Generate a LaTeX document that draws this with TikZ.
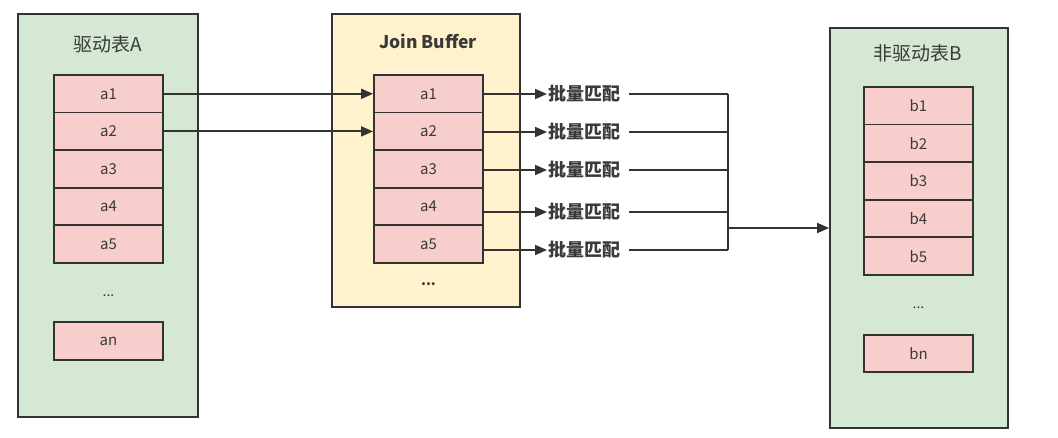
\documentclass[tikz,border=0pt]{standalone}
\usepackage{fontspec}
\setmainfont{Noto Sans CJK SC}
\usetikzlibrary{arrows.meta}
\definecolor{gfill}{HTML}{D5E8D4}
\definecolor{yfill}{HTML}{FFF2CC}
\definecolor{pfill}{HTML}{F8CECC}
\definecolor{edge}{HTML}{333333}
\definecolor{txt}{HTML}{3A3A3A}
\begin{document}
\begin{tikzpicture}[x=1pt,y=-1pt,
  panel/.style={draw=edge,line width=1.8pt,inner sep=0pt},
  cell/.style={draw=edge,line width=1.8pt,fill=pfill,minimum width=109pt,minimum height=37.6pt,inner sep=0pt,font=\fontsize{15}{15}\selectfont,text=txt},
  lbl/.style={font=\fontsize{18}{18}\selectfont\bfseries,text=txt,inner sep=1pt},
  ttl/.style={font=\fontsize{19}{19}\selectfont,text=txt},
  dots/.style={font=\fontsize{14}{14}\selectfont,text=txt},
  conn/.style={draw=edge,line width=1.8pt},
  arr/.style={conn,-{Triangle[length=12pt,width=10pt]}}]
\useasboundingbox (0,0) rectangle (1058,438);
\fill[white] (0,0) rectangle (1058,438);
% panels
\node[panel,fill=gfill,minimum width=180pt,minimum height=403pt] (PA) at (108,215.5) {};
\node[panel,fill=yfill,minimum width=188pt,minimum height=293pt] (PJ) at (426,160.5) {};
\node[panel,fill=gfill,minimum width=178pt,minimum height=400pt] (PB) at (919,228) {};
\node[ttl] (tA) at (108,44) {驱动表A};
\node[ttl,font=\fontsize{17.5}{17.5}\selectfont\bfseries] (tJ) at (428,41) {Join Buffer};
\node[ttl] (tB) at (918,53) {非驱动表B};
% table A
\foreach \i/\y in {1/93.8,2/131.4,3/169,4/206.6,5/244.2}{
  \node[cell] (A\i) at (108.5,\y) {a\i};
}
\node[dots] (Adots) at (108.5,296) {...};
\node[cell] (An) at (108.5,341) {an};
% join buffer
\foreach \i/\y in {1/93.8,2/131.4,3/169,4/206.6,5/244.2}{
  \node[cell] (J\i) at (428.5,\y) {a\i};
}
\node[dots,font=\fontsize{14}{14}\selectfont\bfseries] (Jdots) at (428.5,284) {...};
% table B
\foreach \i/\y in {1/105.8,2/143.4,3/181,4/218.6,5/256.2}{
  \node[cell] (B\i) at (918.5,\y) {b\i};
}
\node[dots] (Bdots) at (918.5,308) {...};
\node[cell] (Bn) at (918.5,353.5) {bn};
% A -> Join buffer
\draw[arr] (A1.east) -- (J1.west);
\draw[arr] (A2.east) -- (J2.west);
% labels
\foreach \i/\y in {1/94,2/132,3/170,4/212,5/250}{
  \node[lbl,anchor=west] (M\i) at (547,\y) {批量匹配};
}
\coordinate (bus1) at (728,94);
\coordinate (bus5) at (728,250);
\coordinate (busout) at (728,228);
\foreach \i in {1,...,5}{
  \draw[arr] (J\i.east |- M\i.west) -- (M\i.west);
  \draw[conn] ([xshift=8pt]M\i.east) -- (bus1 |- M\i.east);
}
\draw[conn] (bus1) -- (bus5);
\draw[arr] (busout) -- (busout -| PB.west);
\end{tikzpicture}
\end{document}
